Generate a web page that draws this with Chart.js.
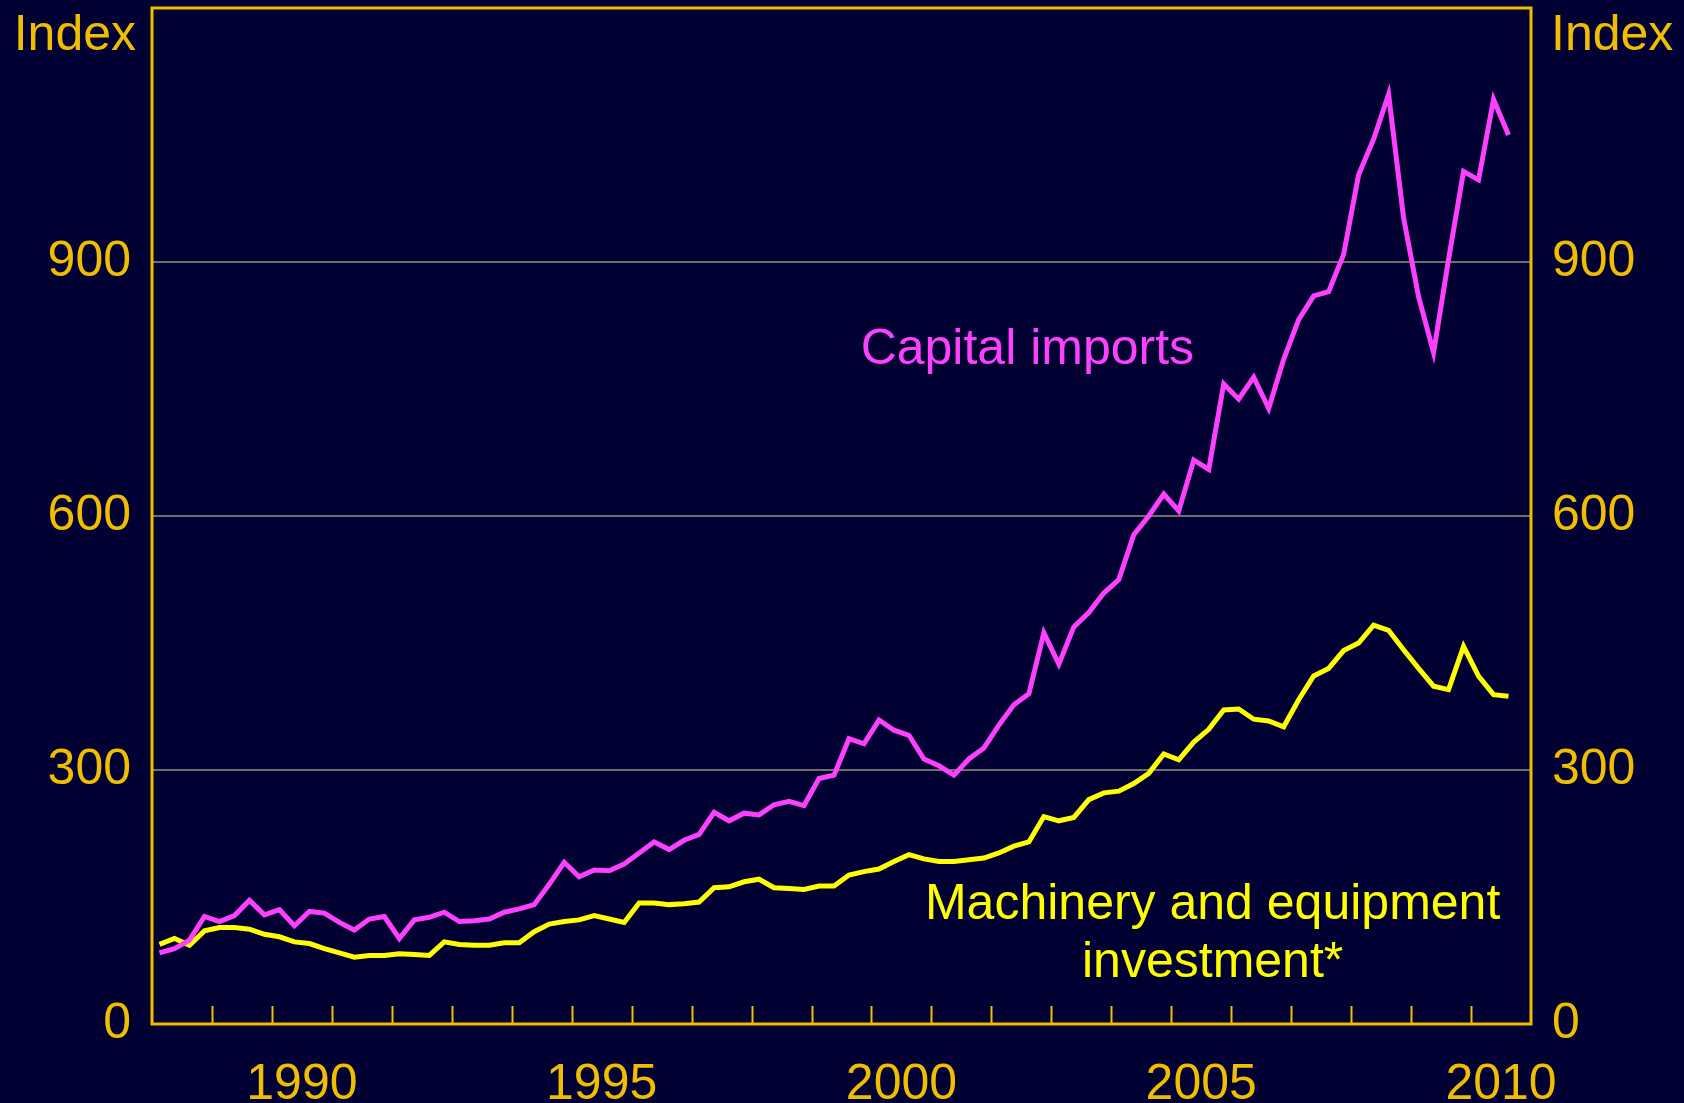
<!DOCTYPE html>
<html>
<head>
<meta charset="utf-8">
<script src="https://cdn.jsdelivr.net/npm/chart.js@4.4.1/dist/chart.umd.min.js"></script>
<style>
  html, body { margin: 0; padding: 0; background: #000033; }
  canvas { display: block; }
</style>
</head>
<body>
<canvas id="chart" width="1684" height="1103"></canvas>
<script>
// quarterly, 1988Q1 .. 2010Q3
const firstYear = 1988;
const quarters = [];
for (let i = 0; i < 91; i++) {
  quarters.push((firstYear + Math.floor(i / 4)) + 'Q' + (i % 4 + 1));
}

const capitalImports = [
  84, 89, 99, 127, 121, 128, 146, 129, 135, 116, 133, 131,
  120, 111, 124, 127, 101, 123, 126, 132, 121, 122, 124, 132,
  136, 141, 165, 191, 174, 182, 181, 189, 202, 215, 206, 217,
  224, 250, 240, 249, 247, 259, 263, 258, 290, 294, 337, 331,
  359, 347, 341, 313, 305, 294, 313, 326, 353, 377, 390, 462,
  425, 469, 486, 509, 525, 578, 600, 626, 606, 666, 655, 756,
  738, 764, 727, 785, 832, 860, 865, 909, 1003, 1045, 1098, 952,
  859, 793, 903, 1007, 997, 1092, 1050
];

const machineryInvestment = [
  94, 101, 93, 110, 114, 114, 112, 106, 103, 97, 95, 89,
  84, 79, 81, 81, 83, 82, 81, 97, 94, 93, 93, 96,
  96, 109, 118, 121, 123, 128, 124, 120, 143, 143, 141, 142,
  144, 161, 162, 168, 171, 161, 160, 159, 163, 163, 176, 180,
  183, 192, 200, 195, 192, 192, 194, 196, 202, 210, 215, 245,
  240, 244, 265, 273, 275, 284, 296, 319, 312, 333, 348, 371,
  372, 360, 358, 351, 383, 411, 420, 441, 450, 471, 465, 442,
  420, 399, 395, 446, 411, 389, 387
];

const yearLabels = ['1990', '1995', '2000', '2005', '2010'];
const yTicks = [0, 300, 600, 900];

const axisColor = '#f0be00';
const fontFamily = '"Liberation Sans", Arial, sans-serif';

// quarter label -> decimal year at middle of quarter
function quarterToX(q) {
  const yr = parseInt(q.slice(0, 4));
  const n = parseInt(q.slice(5));
  return yr + (n - 0.5) / 4;
}

const capPoints = quarters.map((q, i) => ({ x: quarterToX(q), y: capitalImports[i] }));
const machPoints = quarters.map((q, i) => ({ x: quarterToX(q), y: machineryInvestment[i] }));

const framePlugin = {
  id: 'frame',
  afterDraw(chart) {
    const ctx = chart.ctx;
    const a = chart.chartArea;
    const xs = chart.scales.x;
    const ys = chart.scales.y;
    ctx.save();
    ctx.strokeStyle = axisColor;
    // inward tick marks at year boundaries
    ctx.lineWidth = 2;
    for (let yr = 1989; yr <= 2010; yr++) {
      const px = Math.round(xs.getPixelForValue(yr)) + 0.5;
      ctx.beginPath();
      ctx.moveTo(px, a.bottom);
      ctx.lineTo(px, a.bottom - 18);
      ctx.stroke();
    }
    ctx.lineWidth = 3;
    ctx.strokeRect(a.left, a.top, a.right - a.left, a.bottom - a.top);

    // "Index" labels
    ctx.font = '50px ' + fontFamily;
    ctx.fillStyle = axisColor;
    ctx.textBaseline = 'alphabetic';
    ctx.textAlign = 'right';
    ctx.fillText('Index', a.left - 16, 50);
    ctx.textAlign = 'left';
    ctx.fillText('Index', a.right + 20, 50);

    // series labels
    ctx.textAlign = 'center';
    ctx.fillStyle = '#ff40ff';
    ctx.fillText('Capital imports', xs.getPixelForValue(2002.6), ys.getPixelForValue(779));
    ctx.fillStyle = '#ffff00';
    ctx.fillText('Machinery and equipment', xs.getPixelForValue(2005.69), ys.getPixelForValue(124));
    ctx.fillText('investment*', xs.getPixelForValue(2005.69), ys.getPixelForValue(55));
    ctx.restore();
  }
};

const yTickOpts = {
  color: axisColor,
  font: { size: 50, family: fontFamily },
  padding: 21
};

function fitY(width) {
  return s => {
    s.width = width;
    s.paddingTop = 0;
    s.paddingBottom = 0;
  };
}

new Chart(document.getElementById('chart'), {
  type: 'line',
  data: {
    datasets: [
      {
        label: 'Capital imports',
        data: capPoints,
        borderColor: '#ff40ff',
        borderWidth: 5,
        pointRadius: 0,
        tension: 0,
        yAxisID: 'y'
      },
      {
        label: 'Machinery and equipment investment*',
        data: machPoints,
        borderColor: '#ffff00',
        borderWidth: 5,
        pointRadius: 0,
        tension: 0,
        yAxisID: 'y'
      }
    ]
  },
  options: {
    responsive: false,
    animation: false,
    layout: { padding: { top: 8, left: 0, right: 0, bottom: 0 } },
    plugins: {
      legend: { display: false },
      tooltip: { enabled: false }
    },
    scales: {
      x: {
        type: 'linear',
        min: 1988,
        max: 2011,
        afterBuildTicks: s => { s.ticks = yearLabels.map(y => ({ value: parseInt(y) + 0.5 })); },
        afterFit: s => { s.height = 79; s.paddingLeft = 0; s.paddingRight = 0; },
        ticks: {
          autoSkip: false,
          maxRotation: 0,
          color: axisColor,
          font: { size: 50, family: fontFamily },
          padding: 31,
          callback: v => String(Math.floor(v))
        },
        grid: { display: false, drawTicks: false },
        border: { display: false }
      },
      y: {
        position: 'left',
        min: 0,
        max: 1200,
        afterBuildTicks: s => { s.ticks = yTicks.map(v => ({ value: v })); },
        afterFit: fitY(152),
        ticks: yTickOpts,
        grid: {
          drawTicks: false,
          lineWidth: 2,
          color: c => (c.tick && c.tick.value === 0) ? 'rgba(0,0,0,0)' : '#6e6e6e'
        },
        border: { display: false }
      },
      y2: {
        position: 'right',
        min: 0,
        max: 1200,
        afterBuildTicks: s => { s.ticks = yTicks.map(v => ({ value: v })); },
        afterFit: fitY(153),
        ticks: yTickOpts,
        grid: { display: false, drawTicks: false },
        border: { display: false }
      }
    }
  },
  plugins: [framePlugin]
});
</script>
</body>
</html>
